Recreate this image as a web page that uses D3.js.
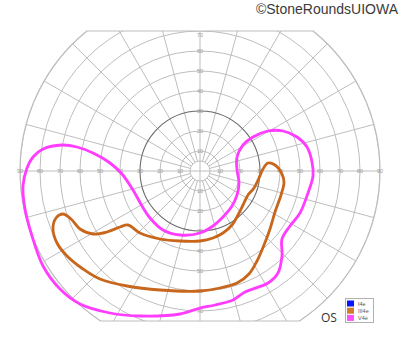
<!DOCTYPE html>
<html>
<head>
<meta charset="utf-8">
<script src="https://cdn.jsdelivr.net/npm/d3@7"></script>
<style>
  html, body { margin: 0; padding: 0; background: #fff; }
  svg { display: block; }
</style>
</head>
<body>
<svg id="chart" width="400" height="352"></svg>
<script>
// ---------- DATA ----------
// Isopter outlines as [horizontal degrees, vertical degrees] (visual-field coordinates)
const isopterV4e = [
  [56.5,-2.5],[54,-11],[50,-21],[45,-27.5],[41,-34],[41,-42.5],[39,-51],[34,-56],
  [22.5,-60.5],[16.5,-64.5],[7.5,-67],[0,-68.5],[-10,-71.5],[-30,-72.5],[-45,-71],
  [-60,-66.5],[-70,-59],[-78.5,-47.5],[-84,-32.5],[-87.5,-19],[-88.5,-7.5],[-86.5,1.5],
  [-83.5,7],[-78.5,11],[-69,13],[-61.5,12],[-53.5,9],[-45,4],[-39,-1.5],[-33.5,-9.5],
  [-29,-17.5],[-25,-23.5],[-18.5,-29.5],[-10,-32],[0,-31],[6.5,-27.5],[11.5,-23],
  [16,-17.5],[18.5,-12],[19.5,-6],[18.5,0.5],[18.5,7],[21.5,13],[26.5,17],[34,20],
  [41.5,20],[48.5,17],[53.5,12],[56,4.5]
];
const isopterIII4e = [
  [34,4],[37.5,3],[40.5,-0.5],[42,-5.5],[40.5,-12],[37.5,-20.5],[35,-29],[32,-37],
  [28.5,-45],[24.5,-51.5],[18.5,-56],[10,-58.5],[0,-60],[-20,-59.5],[-36.5,-57.5],
  [-50,-54],[-58.5,-49],[-66.5,-42.5],[-71.5,-36],[-73.5,-29],[-72,-23.5],[-68.5,-21.5],
  [-64.5,-24],[-60,-29],[-53.5,-31.5],[-46.5,-30.5],[-40,-28],[-36,-27],[-30,-31],
  [-20,-34],[-10,-35],[0,-35],[6.5,-33.5],[11.5,-31],[16,-27],[19,-22],[21.5,-17],
  [24,-12],[27,-8.5],[29.5,-3.5],[31.5,1]
];
const legendLabels = ["I4e", "III4e", "V4e"];
const legendColors = ["#0a14ff", "#d07d2c", "#ff50ff"];
const ringDegrees = [5, 10, 20, 30, 40, 50, 60, 70, 80, 90];
const spokeAngles = d3.range(0, 360, 15);
const hLabels = [10, 20, 30, 40, 50, 60, 70, 80, 90];
const vLabels = [10, 20, 30, 40, 50, 60, 70];
const fieldTop = 70, fieldBottom = -75, fieldMax = 90;
const title = "\u00A9StoneRoundsUIOWA";
const eyeLabel = "OS";

// ---------- SCALES ----------
const svg = d3.select("#chart");
const cx = 200, cy = 171, R = 180;
const x = d3.scaleLinear().domain([-90, 90]).range([cx - R, cx + R]);
const y = d3.scaleLinear().domain([-90, 90]).range([cy + R, cy - R]);
const r = d3.scaleLinear().domain([0, 90]).range([0, R]);

// outline of the field (circle clipped top and bottom)
function fieldPath() {
  const p = d3.path();
  const hwTop = Math.sqrt(fieldMax * fieldMax - fieldTop * fieldTop);
  const hwBot = Math.sqrt(fieldMax * fieldMax - fieldBottom * fieldBottom);
  const aTR = Math.atan2(y(fieldTop) - cy, x(hwTop) - cx);
  const aBR = Math.atan2(y(fieldBottom) - cy, x(hwBot) - cx);
  p.moveTo(x(-hwTop), y(fieldTop));
  p.lineTo(x(hwTop), y(fieldTop));
  p.arc(cx, cy, r(fieldMax), aTR, aBR, false);
  p.lineTo(x(-hwBot), y(fieldBottom));
  p.arc(cx, cy, r(fieldMax), Math.PI - aBR, Math.PI - aTR, false);
  p.closePath();
  return p.toString();
}

const defs = svg.append("defs");
defs.append("clipPath").attr("id", "fieldClip").append("path").attr("d", fieldPath());

const grid = svg.append("g").attr("clip-path", "url(#fieldClip)");

// spokes
grid.selectAll("line.spoke").data(spokeAngles).join("line")
  .attr("class", "spoke")
  .attr("x1", a => cx + r(a % 90 === 0 ? 0 : 5) * Math.cos(a * Math.PI / 180))
  .attr("y1", a => cy - r(a % 90 === 0 ? 0 : 5) * Math.sin(a * Math.PI / 180))
  .attr("x2", a => cx + r(95) * Math.cos(a * Math.PI / 180))
  .attr("y2", a => cy - r(95) * Math.sin(a * Math.PI / 180))
  .attr("stroke", "#bdbdbd").attr("stroke-width", 1);

// rings
grid.selectAll("circle.ring").data(ringDegrees).join("circle")
  .attr("class", "ring")
  .attr("cx", cx).attr("cy", cy).attr("r", d => r(d))
  .attr("fill", "none")
  .attr("stroke", d => d === 30 ? "#6a6a6a" : "#bdbdbd")
  .attr("stroke-width", d => d === 30 ? 1.1 : 1);

// outline
svg.append("path").attr("d", fieldPath())
  .attr("fill", "none").attr("stroke", "#bdbdbd").attr("stroke-width", 1.2);

// axis labels
const lab = svg.append("g").attr("font-family", "Liberation Sans, Arial, sans-serif")
  .attr("font-size", 5.5).attr("fill", "#9a9a9a").attr("text-anchor", "middle");
hLabels.forEach(d => {
  [-1, 1].forEach(s => {
    lab.append("text").attr("x", x(s * d)).attr("y", y(0) + 2).text(d);
  });
});
vLabels.forEach(d => {
  lab.append("text").attr("x", x(0)).attr("y", y(Math.min(d, 68)) + 2).text(d);
  lab.append("text").attr("x", x(0)).attr("y", y(-d) + 2).text(d);
});

// isopters
const line = d3.line().x(d => x(d[0])).y(d => y(d[1])).curve(d3.curveCatmullRomClosed.alpha(0.5));
svg.append("path").datum(isopterIII4e).attr("d", line)
  .attr("fill", "none").attr("stroke", "#c8661c").attr("stroke-width", 2.8)
  .attr("stroke-linejoin", "round");
svg.append("path").datum(isopterV4e).attr("d", line)
  .attr("fill", "none").attr("stroke", "#ff3cff").attr("stroke-width", 2.8)
  .attr("stroke-linejoin", "round");

// title
svg.append("text").attr("x", 398).attr("y", 14).attr("text-anchor", "end")
  .attr("font-family", "Liberation Sans, Arial, sans-serif").attr("font-size", 14)
  .attr("fill", "#3a3a3a").text(title);

// eye label
svg.append("text").attr("x", 321).attr("y", 322)
  .attr("font-family", "Open Sans, sans-serif").attr("font-size", 12)
  .attr("fill", "#333").text(eyeLabel);

// legend
const lg = svg.append("g");
lg.append("rect").attr("x", 345.5).attr("y", 298.5).attr("width", 28).attr("height", 24)
  .attr("fill", "#fff").attr("stroke", "#b0b0b0").attr("stroke-width", 1);
legendLabels.forEach((t, i) => {
  lg.append("rect").attr("x", 347).attr("y", 300.5 + i * 7.2).attr("width", 7).attr("height", 6)
    .attr("fill", legendColors[i]);
  lg.append("text").attr("x", 358).attr("y", 305.5 + i * 7.2)
    .attr("font-family", "Liberation Sans, Arial, sans-serif").attr("font-size", 5.5)
    .attr("fill", "#555").text(t);
});
</script>
</body>
</html>
